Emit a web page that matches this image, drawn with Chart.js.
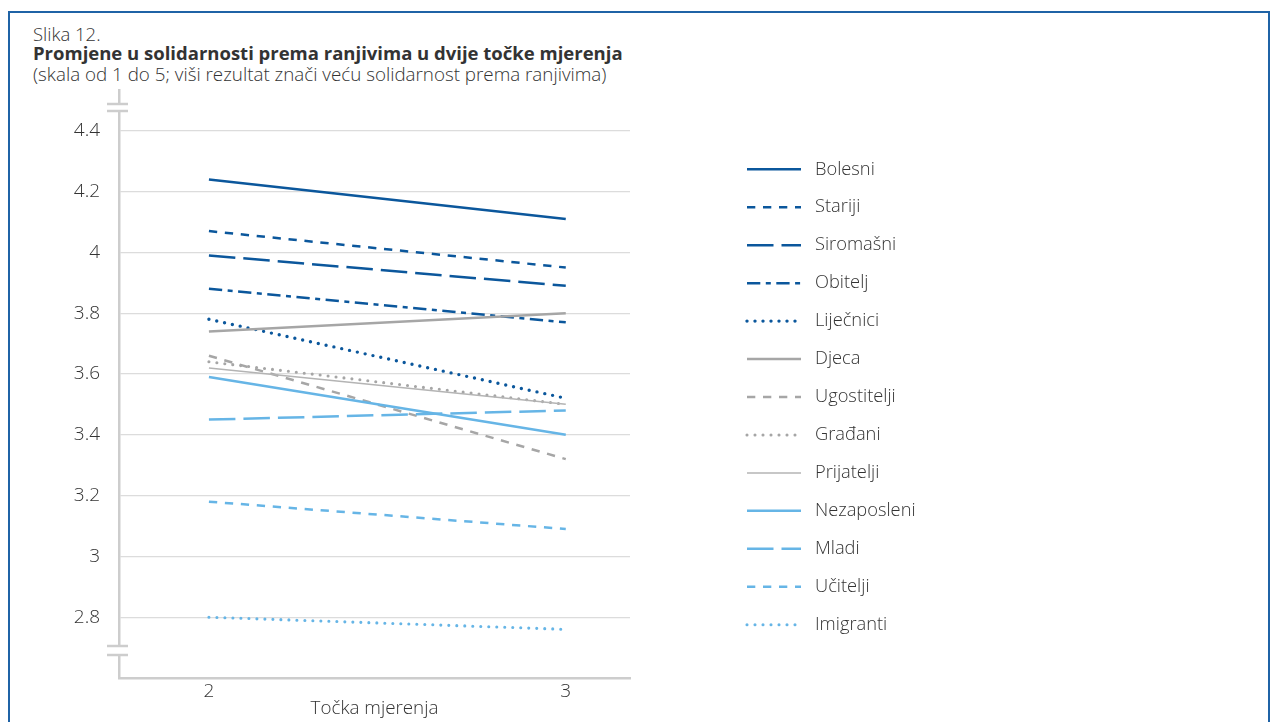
<!DOCTYPE html>
<html>
<head>
<meta charset="utf-8">
<title>Slika 12.</title>
<script src="https://cdn.jsdelivr.net/npm/chart.js@4.4.1/dist/chart.umd.min.js"></script>
<style>
  html, body { margin: 0; padding: 0; background: #fff; }
  #wrap { position: relative; width: 1276px; height: 722px; overflow: hidden; }
  #frame { position: absolute; left: 8px; top: 11px; width: 1262px; height: 760px;
           border: 2px solid #1f63a6; box-sizing: border-box; }
  .hd { position: absolute; left: 33px; font-family: "Open Sans", sans-serif;
        color: #333; white-space: nowrap; line-height: 20px; }
  canvas { position: absolute; left: 0; top: 0; }
</style>
</head>
<body>
<div id="wrap">
  <div id="frame"></div>
  <div class="hd" style="top:24px;font-weight:300;font-size:18.5px">Slika 12.</div>
  <div class="hd" style="top:43px;font-weight:700;font-size:18.5px">Promjene u solidarnosti prema ranjivima u dvije točke mjerenja</div>
  <div class="hd" style="top:64px;font-weight:300;font-size:18.8px">(skala od 1 do 5; viši rezultat znači veću solidarnost prema ranjivima)</div>
  <canvas id="c" width="1276" height="722"></canvas>
</div>
<script>
// Measurement points (x axis)
const measurePoints = [2, 3];
const xTickLabels = ['2', '3'];

// Groups, in legend order
const groups = ['Bolesni', 'Stariji', 'Siromašni', 'Obitelj', 'Liječnici', 'Djeca', 'Ugostitelji',
                'Građani', 'Prijatelji', 'Nezaposleni', 'Mladi', 'Učitelji', 'Imigranti'];

// Mean solidarity at measurement point 2 and 3
const valuesPoint2 = [4.24, 4.07, 3.99, 3.88, 3.78, 3.74, 3.66, 3.64, 3.62, 3.59, 3.45, 3.18, 2.80];
const valuesPoint3 = [4.11, 3.95, 3.89, 3.77, 3.52, 3.80, 3.32, 3.50, 3.50, 3.40, 3.48, 3.09, 2.76];

// Y axis ticks
const yTickValues = [2.8, 3.0, 3.2, 3.4, 3.6, 3.8, 4.0, 4.2, 4.4];
const yTickLabels = ['2.8', '3', '3.2', '3.4', '3.6', '3.8', '4', '4.2', '4.4'];

// Line styles
const DARK = '#0b579c', GRAY = '#a6a6a6', LGRAY = '#b4b4b4', LBLUE = '#66b5e6';
const SOLID = [], DASH = [8.3, 7.7], LONG = [26.5, 8], DASHDOT = [13.3, 5.5, 5, 5.5], DOT = [0, 8];
const lineStyles = [
  { color: DARK,  dash: SOLID,   w: 2.5 },
  { color: DARK,  dash: DASH,    w: 2.5 },
  { color: DARK,  dash: LONG,    w: 2.5 },
  { color: DARK,  dash: DASHDOT, w: 2.5 },
  { color: DARK,  dash: DOT,     w: 3.4, round: true },
  { color: GRAY,  dash: SOLID,   w: 2.5 },
  { color: GRAY,  dash: DASH,    w: 2.5 },
  { color: GRAY,  dash: DOT,     w: 3.1, round: true },
  { color: LGRAY, dash: SOLID,   w: 1.5 },
  { color: LBLUE, dash: SOLID,   w: 2.5 },
  { color: LBLUE, dash: LONG,    w: 2.5 },
  { color: LBLUE, dash: DASH,    w: 2.5 },
  { color: LBLUE, dash: DOT,     w: 3.1, round: true }
];

const FONT = '"Open Sans", sans-serif';
const TEXT = '#333333';
const AXIS = '#cdcdcd';

const datasets = groups.map((name, i) => {
  const s = lineStyles[i];
  return {
    label: name,
    data: [
      { x: measurePoints[0], y: valuesPoint2[i] },
      { x: measurePoints[1], y: valuesPoint3[i] }
    ],
    borderColor: s.color,
    backgroundColor: s.color,
    borderWidth: s.w,
    borderDash: s.dash,
    borderCapStyle: s.round ? 'round' : 'butt',
    pointRadius: 0,
    pointHoverRadius: 0,
    fill: false,
    tension: 0,
    order: groups.length - i
  };
});

// Broken-axis marks on the value axis (just below the top and just above the bottom)
const axisBreaks = {
  id: 'axisBreaks',
  afterDraw(chart) {
    const { ctx, chartArea } = chart;
    const x = chartArea.left;
    const pairs = [[chartArea.top + 14, chartArea.top + 21], [chartArea.bottom - 32, chartArea.bottom - 23]];
    ctx.save();
    pairs.forEach(([a, b]) => {
      ctx.fillStyle = '#ffffff';
      ctx.fillRect(x - 3, a, 6, b - a);
      ctx.strokeStyle = AXIS;
      ctx.lineWidth = 2.5;
      ctx.beginPath();
      ctx.moveTo(x - 12, a); ctx.lineTo(x + 9, a);
      ctx.moveTo(x - 12, b); ctx.lineTo(x + 9, b);
      ctx.stroke();
    });
    ctx.restore();
  }
};

// Legend column to the right of the plot, samples drawn with each dataset's own stroke style
const sideLegend = {
  id: 'sideLegend',
  afterDraw(chart) {
    const { ctx } = chart;
    const x0 = 747, x1 = 801, tx = 815, top = 169.3, pitch = 37.95;
    ctx.save();
    chart.data.datasets.forEach((ds, i) => {
      const y = top + i * pitch;
      ctx.strokeStyle = ds.borderColor;
      ctx.lineWidth = ds.borderWidth;
      ctx.setLineDash(ds.borderDash);
      ctx.lineCap = ds.borderCapStyle;
      ctx.beginPath();
      ctx.moveTo(x0, y);
      ctx.lineTo(x1, y);
      ctx.stroke();
      ctx.setLineDash([]);
      ctx.fillStyle = TEXT;
      ctx.font = '300 18.3px ' + FONT;
      ctx.textAlign = 'left';
      ctx.textBaseline = 'middle';
      ctx.fillText(ds.label, tx, y);
    });
    ctx.restore();
  }
};

new Chart(document.getElementById('c'), {
  type: 'line',
  data: { datasets },
  plugins: [axisBreaks, sideLegend],
  options: {
    responsive: false,
    animation: false,
    devicePixelRatio: 1,
    layout: { padding: { left: 0, top: 90, right: 646, bottom: 0 } },
    plugins: { legend: { display: false }, tooltip: { enabled: false }, title: { display: false } },
    scales: {
      x: {
        type: 'linear',
        min: 1.748,
        max: 3.18,
        afterBuildTicks(scale) { scale.ticks = measurePoints.map(v => ({ value: v })); },
        afterFit(scale) { scale.height = 44; },
        ticks: {
          padding: 2,
          color: TEXT,
          font: { family: FONT, size: 19, weight: '300' },
          maxRotation: 0,
          callback: (v) => xTickLabels[measurePoints.indexOf(v)]
        },
        grid: { display: false, drawTicks: false },
        border: { display: true, color: AXIS, width: 2.5 },
        title: {
          display: true,
          text: 'Točka mjerenja',
          color: TEXT,
          font: { family: FONT, size: 18.8, weight: '300' },
          padding: { top: 0, bottom: 2 }
        }
      },
      y: {
        type: 'linear',
        min: 2.6,
        max: 4.534,
        afterBuildTicks(scale) { scale.ticks = yTickValues.map(v => ({ value: v })); },
        afterFit(scale) { scale.width = 119; },
        ticks: {
          padding: 19,
          color: TEXT,
          font: { family: FONT, size: 19, weight: '300' },
          callback: (v) => {
            const k = yTickValues.findIndex(t => Math.abs(t - v) < 1e-9);
            return k >= 0 ? yTickLabels[k] : '';
          }
        },
        grid: { color: '#dcdcdc', lineWidth: 1.3, drawTicks: false },
        border: { display: true, color: AXIS, width: 2.5 }
      }
    }
  }
});
</script>
</body>
</html>
